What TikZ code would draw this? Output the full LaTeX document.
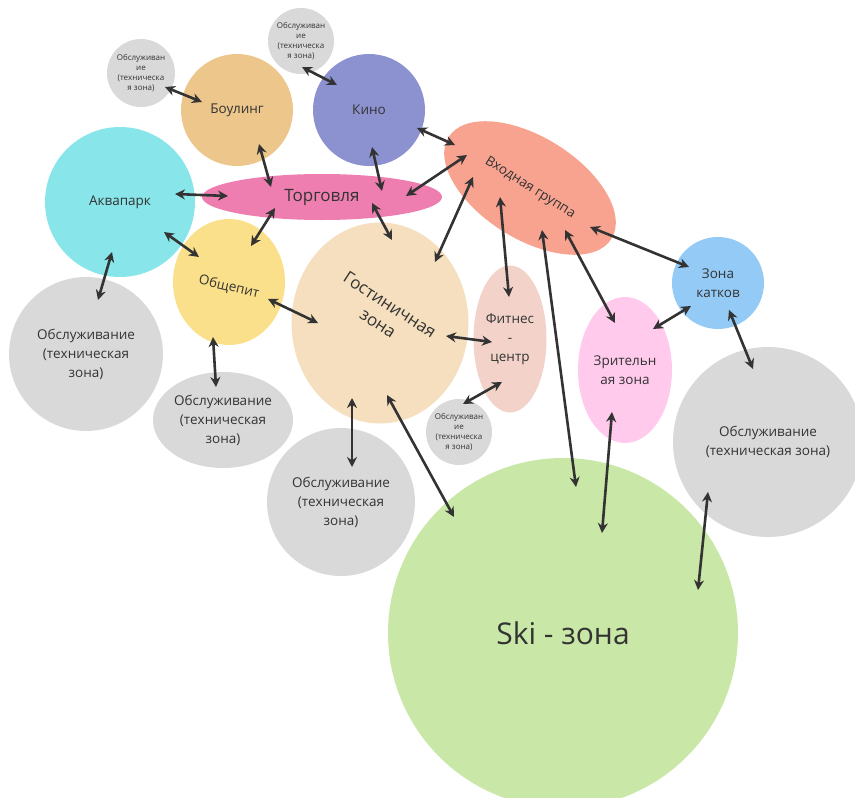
\documentclass[tikz,border=0pt]{standalone}
\usepackage{fontspec}
\setmainfont{Open Sans}
\usetikzlibrary{shapes.geometric,arrows.meta}
\definecolor{srvc}{HTML}{D9D9D9}
\definecolor{bowlc}{HTML}{EDC68C}
\definecolor{kinoc}{HTML}{8C91D0}
\definecolor{aquac}{HTML}{88E5E9}
\definecolor{torgc}{HTML}{EE7EAF}
\definecolor{vhodc}{HTML}{F8A390}
\definecolor{obshc}{HTML}{FAE08A}
\definecolor{gostc}{HTML}{F5DFBF}
\definecolor{fitc}{HTML}{F3D3C9}
\definecolor{zritc}{HTML}{FFCAEB}
\definecolor{katc}{HTML}{94CAF6}
\definecolor{skic}{HTML}{C9E8A8}
\definecolor{txtc}{HTML}{333333}
\definecolor{arrc}{HTML}{333333}
\begin{document}
\begin{tikzpicture}[x=1pt,y=-1pt,
  zone/.style={draw=none, inner sep=0pt, align=center, text=txtc, font=\fontsize{13.5}{19}\selectfont},
  circ/.style={zone, circle, minimum size=#1pt},
  ell/.style 2 args={zone, ellipse, minimum width=#1pt, minimum height=#2pt},
  smalltxt/.style={font=\fontsize{8}{10}\selectfont},
  bigtxt/.style={font=\fontsize{17}{22}\selectfont},
  conn/.style={draw=arrc, line width=2.6pt, {Stealth[length=10pt,width=10pt]}-{Stealth[length=10pt,width=10pt]}}
]
\useasboundingbox (0,0) rectangle (855,798);
\clip (0,0) rectangle (855,798);

% zones
\node[circ=68, fill=srvc, smalltxt] (srv1) at (141,73) {Обслуживан\\ие\\(техническа\\я зона)};
\node[circ=66, fill=srvc, smalltxt] (srv2) at (301,41) {Обслуживан\\ие\\(техническа\\я зона)};
\node[circ=112, fill=bowlc] (bowl) at (237,110) {Боулинг};
\node[circ=112, fill=kinoc] (kino) at (369,110) {Кино};
\node[circ=150, fill=aquac] (aqua) at (120,202) {Аквапарк};
\node[ell={240}{46}, fill=torgc, bigtxt] (torg) at (322,197) {Торговля};
\node[ell={192}{102}, fill=vhodc, rotate=-32] (vhod) at (530,188) {Входная группа};
\node[ell={112}{126}, fill=obshc] (obsh) at (229,282) {};
\node[rotate=-13, text=txtc, font=\fontsize{13.5}{19}\selectfont] (obsht) at (229,287) {Общепит};
\node[ell={177}{201}, fill=gostc] (gost) at (380,323) {};
\node[rotate=-33, text=txtc, align=center, bigtxt] (gostt) at (384,314) {Гостиничная\\зона};
\node[ell={73}{147}, fill=fitc] (fit) at (510,339) {Фитнес\\-\\центр};
\node[circ=66, fill=srvc, smalltxt] (srv3) at (459,432) {Обслуживан\\ие\\(техническа\\я зона)};
\node[ell={94}{146}, fill=zritc] (zrit) at (625,370) {Зрительн\\ая зона};
\node[circ=92, fill=katc] (kat) at (718,283) {Зона\\катков};
\node[circ=154, fill=srvc] (srvL) at (86,354) {Обслуживание\\(техническая\\зона)};
\node[ell={140}{96}, fill=srvc] (srvO) at (223,420) {Обслуживание\\(техническая\\зона)};
\node[circ=148, fill=srvc] (srvB) at (341,502) {Обслуживание\\(техническая\\зона)};
\node[circ=190, fill=srvc] (srvR) at (768,442) {Обслуживание\\(техническая зона)};
\node[circ=350, fill=skic, font=\fontsize{30}{36}\selectfont] (ski) at (563,633) {Ski - зона};

% connector end points
\foreach \n/\x/\y in {
  c1a/165/87, c1b/202/102,
  c2a/302/67, c2b/337/85,
  c3a/259/144, c3b/271/187,
  c4a/372/147, c4b/382/191,
  c5a/417/128, c5b/455/145,
  c6a/406/196, c6b/467/155,
  c7a/175/194, c7b/228/196,
  c8a/275/208, c8b/251/246,
  c9a/372/203, c9b/392/240,
  c10a/473/177, c10b/435/262,
  c11a/164/232, c11b/199/257,
  c12a/112/252, c12b/98/300,
  c13a/213/337, c13b/216/387,
  c14a/268/299, c14b/318/323,
  c15a/446/336, c15b/492/342,
  c16a/502/382, c16b/463/404,
  c17a/500/197, c17b/509/297,
  c18a/352/398, c18b/352/467,
  c19a/387/395, c19b/454/517,
  c20a/542/230, c20b/576/487,
  c21a/565/230, c21b/615/323,
  c22a/590/227, c22b/689/267,
  c23a/653/329, c23b/691/306,
  c24a/729/310, c24b/753/369,
  c25a/612/412, c25b/602/533,
  c26a/708/492, c26b/698/590}
  {\coordinate (\n) at (\x,\y);}

\foreach \i in {1,...,26} {\draw[conn] (c\i a) -- (c\i b);}
\end{tikzpicture}
\end{document}
